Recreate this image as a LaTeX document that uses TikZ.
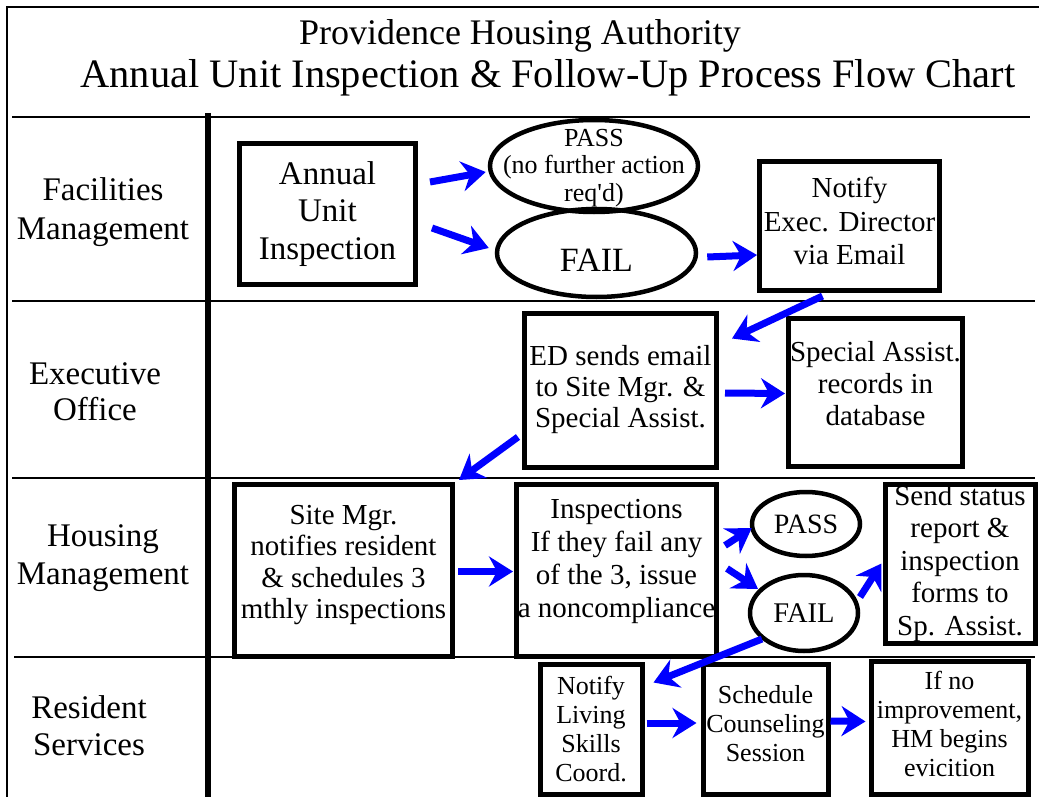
\documentclass[tikz,border=0pt]{standalone}
\usepackage{fontspec}
\setmainfont{Liberation Serif}
\newfontfamily\plainserif{Liberation Serif}
\usetikzlibrary{arrows.meta,calc,shapes.geometric}
\begin{document}
\begin{tikzpicture}[x=1pt,y=-1pt,
 box/.style={draw,line width=5pt,inner sep=0pt,align=center},
 oval/.style={draw,ellipse,line width=4.5pt,inner sep=0pt,align=center},
 arr/.style={draw=blue,line width=7pt,-{Stealth[length=24pt,width=30pt,inset=8pt]}},
 lane/.style={line width=2.5pt},
 lbl/.style={align=center,inner sep=0pt},
]
\useasboundingbox (0,0) rectangle (1039,797);
\clip (0,0) rectangle (1039,797);
% frame and lanes
\draw[line width=2.5pt] (1039,7) -- (7,7) -- (7,797);
\draw[lane] (12,117) -- (1030,117);
\draw[lane] (12,301) -- (1035,301);
\draw[lane] (12,478) -- (1035,478);
\draw[lane] (14,657) -- (1035,657);
\draw[line width=6pt] (208,113) -- (208,797);
% title
\node[lbl,font=\fontsize{36}{43}\selectfont] (t1) at (520,36) {Providence Housing Authority};
\node[lbl,font=\fontsize{40.4}{46}\selectfont] (t2) at (548,78) {Annual Unit Inspection \& Follow-Up Process Flow Chart};
% lane labels
\node[lbl,font=\fontsize{33}{39}\selectfont] (l1) at (103,212) {Facilities\\Management};
\node[lbl,font=\fontsize{33}{36}\selectfont] (l2) at (95,392) {Executive\\Office};
\node[lbl,font=\fontsize{33}{38}\selectfont] (l3) at (103,558) {Housing\\Management};
\node[lbl,font=\fontsize{33}{37}\selectfont] (l4) at (89,726) {Resident\\Services};
% nodes
\node[box,minimum width=176pt,minimum height=141pt,font=\fontsize{33}{37.5}\selectfont] (annual) at (327.5,214) {Annual\\Unit\\Inspection};
\node[oval,minimum width=199pt,minimum height=88pt] (fail1) at (596.5,253) {};
\node[oval,minimum width=208pt,minimum height=92pt] (pass1) at (594,166) {};
\node[lbl,font=\plainserif\fontsize{26}{27.5}\selectfont] (pass1t) at (594,168) {PASS\\(no further action\\req'd)};
\node[lbl,font=\fontsize{34}{38}\selectfont] (fail1t) at (596.5,260) {FAIL};
\node[box,minimum width=180pt,minimum height=129pt,font=\fontsize{29}{33.5}\selectfont] (notifyED) at (849.5,226) {Notify\\Exec. Director\\via Email\\[-24pt]};
\node[box,minimum width=192pt,minimum height=154pt,font=\fontsize{29}{31}\selectfont] (edsend) at (620.5,390) {ED sends email\\to Site Mgr. \&\\Special Assist.};
\node[box,minimum width=174pt,minimum height=148pt,font=\fontsize{29}{32}\selectfont] (special) at (875.5,392.5) {Special Assist.\\records in\\database\\[-14pt]};
\node[box,minimum width=218pt,minimum height=172pt,font=\fontsize{29}{31.3}\selectfont] (sitemgr) at (343.5,570.5) {Site Mgr.\\notifies resident\\\& schedules 3\\mthly inspections\\[-14pt]};
\node[box,minimum width=200pt,minimum height=172pt,font=\fontsize{29}{33}\selectfont] (inspect) at (616.5,570.5) {Inspections\\If they fail any\\of the 3, issue\\a noncompliance\\[-8pt]};
\node[oval,minimum width=108pt,minimum height=64pt,font=\fontsize{28}{32}\selectfont] (pass2) at (806,524) {PASS};
\node[oval,minimum width=108pt,minimum height=76pt,font=\fontsize{28.5}{32}\selectfont] (fail2) at (804,613) {FAIL};
\node[box,minimum width=150pt,minimum height=159pt,font=\fontsize{29}{32.5}\selectfont] (sendstatus) at (960,563.5) {Send status\\report \&\\inspection\\forms to\\Sp. Assist.};
\node[box,minimum width=102pt,minimum height=130pt,font=\fontsize{26}{29}\selectfont] (living) at (591,729) {Notify\\Living\\Skills\\Coord.};
\node[box,minimum width=125pt,minimum height=130pt,font=\fontsize{26}{29}\selectfont] (schedule) at (765.5,729) {Schedule\\Counseling\\Session\\[-18pt]};
\node[box,minimum width=157pt,minimum height=133pt,font=\fontsize{26}{29}\selectfont] (ifno) at (949.5,727.5) {If no\\improvement,\\HM begins\\evicition\\[-21pt]};
% arrows
\draw[arr] ($(annual.east)+(12,-32)$) -- ($(pass1.west)+(-2,6)$);
\draw[arr] ($(annual.east)+(14,14)$) -- ($(fail1.west)+(-6,-5)$);
\draw[arr] ($(fail1.east)+(9,4)$) -- ($(notifyED.west)+(0,29)$);
\draw[arr] ($(notifyED.south)+(-27,3)$) -- ($(edsend.north east)+(13,28)$);
\draw[arr] ($(edsend.east)+(6,3)$) -- ($(special.west)+(-1,1)$);
\draw[arr] ($(edsend.west)+(-4,47)$) -- ($(sitemgr.north east)+(4,-2)$);
\draw[arr] ($(sitemgr.east)+(3,1)$) -- ($(inspect.west)+(-1,1)$);
\draw[arr] ($(inspect.east)+(6,-25)$) -- ($(pass2.west)+(2,4)$);
\draw[arr] ($(inspect.east)+(8,-2)$) -- ($(fail2.center)+(-46,-24)$);
\draw[arr] ($(fail2.center)+(56,-16)$) -- ($(sendstatus.west)+(-1,0)$);
\draw[arr] ($(fail2.center)+(-42,26)$) -- ($(living.north east)+(9,21)$);
\draw[arr] ($(living.east)+(2,-6)$) -- ($(schedule.west)+(-4,-6)$);
\draw[arr] ($(schedule.east)+(0,-8)$) -- ($(ifno.west)+(-3,-6)$);
\end{tikzpicture}
\end{document}
